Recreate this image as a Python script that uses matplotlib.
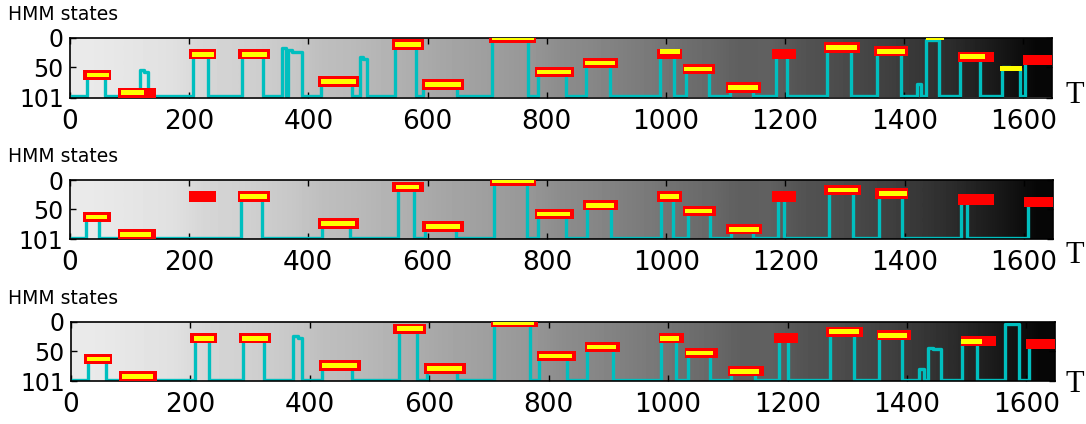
import matplotlib.pyplot as plt
import numpy as np
from matplotlib.patches import Rectangle

# ---------------------------------------------------------------------------
# data
# ---------------------------------------------------------------------------
# ground truth segments (red boxes), shared by all three panels
gt_start = [22, 81, 200, 282, 416, 540, 591, 704, 780, 861, 985, 1028, 1101, 1178, 1265, 1350, 1490, 1600]
gt_end = [69, 144, 245, 335, 485, 594, 661, 782, 845, 919, 1027, 1083, 1160, 1218, 1326, 1406, 1550, 1648]
gt_state = [63, 93, 28, 28, 74, 12, 79, 1, 58, 43, 28, 53, 84, 28, 17, 23, 33, 38]

# detected segments (yellow bars), one set per panel
det1_start = [28, 85, 204, 288, 421, 546, 596, 708, 784, 865, 990, 1031, 1105, 1269, 1354, 1436, 1493, 1560]
det1_end = [65, 124, 241, 330, 480, 589, 656, 778, 840, 914, 1023, 1077, 1155, 1321, 1402, 1466, 1535, 1598]
det1_state = [63, 93, 28, 28, 74, 12, 79, 1, 58, 43, 23, 53, 84, 17, 23, 1, 32, 52]

det2_start = [27, 85, 286, 421, 547, 597, 708, 784, 866, 989, 1032, 1105, 1272, 1356]
det2_end = [63, 137, 330, 478, 586, 655, 778, 839, 913, 1021, 1077, 1155, 1321, 1403]
det2_state = [63, 93, 28, 74, 12, 79, 1, 58, 43, 28, 53, 84, 17, 23]

det3_start = [27, 85, 206, 287, 420, 546, 596, 707, 784, 864, 987, 1030, 1104, 1269, 1352, 1491]
det3_end = [65, 138, 240, 330, 479, 589, 655, 775, 839, 913, 1019, 1076, 1153, 1319, 1400, 1526]
det3_state = [63, 93, 28, 28, 74, 12, 79, 1, 58, 43, 28, 53, 84, 17, 23, 33]

# decoded HMM state path (cyan), step breakpoints per panel
path1_t = [0, 28, 59, 117, 124, 131, 206, 232, 288, 324, 355, 362, 366, 373, 389, 421, 473, 486, 492, 498,
           546, 581, 593, 649, 708, 768, 785, 832, 866, 907, 990, 1013, 1033, 1072, 1107, 1146, 1185, 1203,
           1271, 1311, 1354, 1394, 1422, 1428, 1437, 1458, 1493, 1527, 1564, 1578, 1595, 1602, 1648]
path1_s = [99, 63, 99, 55, 58, 99, 28, 99, 28, 99, 18, 99, 21, 24, 99, 74, 99, 33, 36, 99,
           12, 99, 78, 99, 1, 99, 58, 99, 43, 99, 27, 99, 53, 99, 83, 99, 27, 99,
           17, 99, 22, 99, 79, 99, 4, 99, 33, 99, 49, 52, 99, 38, 38]

path2_t = [0, 28, 49, 288, 323, 423, 470, 550, 578, 596, 648, 711, 767, 785, 832, 868, 907, 991, 1012,
           1036, 1073, 1108, 1146, 1187, 1198, 1273, 1314, 1357, 1395, 1495, 1504, 1606, 1648]
path2_s = [99, 63, 99, 28, 99, 74, 99, 13, 99, 79, 99, 1, 99, 58, 99, 43, 99, 28, 99,
           53, 99, 84, 99, 28, 99, 18, 99, 23, 99, 33, 99, 38, 38]

path3_t = [0, 28, 59, 207, 231, 288, 323, 371, 380, 387, 421, 470, 549, 580, 597, 647, 708, 768, 784, 831,
           864, 907, 988, 1014, 1033, 1071, 1106, 1145, 1185, 1200, 1272, 1312, 1354, 1392, 1421, 1428,
           1436, 1443, 1457, 1493, 1517, 1565, 1587, 1604, 1648]
path3_s = [99, 64, 99, 28, 99, 28, 99, 24, 27, 99, 74, 99, 12, 99, 79, 99, 1, 99, 59, 99,
           43, 99, 28, 99, 54, 99, 84, 99, 28, 99, 18, 99, 23, 99, 80, 99,
           44, 47, 99, 33, 99, 4, 99, 38, 38]

# background image: grey level of each 50-frame column block
bg_gray = [234, 231, 228, 224, 214, 210, 205, 199, 190, 186, 180, 173, 166, 161, 156, 150, 140,
           135, 128, 121, 111, 105, 95, 96, 84, 78, 71, 64, 55, 45, 33, 20, 6]

T_MAX = 1648
panels = [
    (det1_start, det1_end, det1_state, path1_t, path1_s),
    (det2_start, det2_end, det2_state, path2_t, path2_s),
    (det3_start, det3_end, det3_state, path3_t, path3_s),
]
# axes rectangles in figure fraction
axes_pos = [
    [70 / 1086, 1 - 97.5 / 424, 982 / 1086, 60 / 424],
    [69.7 / 1086, 1 - 239.3 / 424, 983 / 1086, 59.3 / 424],
    [71 / 1086, 1 - 381.3 / 424, 984 / 1086, 59.6 / 424],
]
label_top = [5, 146.7, 289]       # "HMM states" top, px
t_base = [103, 263, 392]          # "T" baseline, px

fig = plt.figure(figsize=(10.86, 4.24), dpi=100)

for k, (d_s, d_e, d_st, p_t, p_s) in enumerate(panels):
    ax = fig.add_axes(axes_pos[k])

    bg = np.array(bg_gray, dtype=float)[None, :]
    ax.imshow(bg, cmap='gray', vmin=0, vmax=255, aspect='auto',
              interpolation='bilinear', extent=[0, T_MAX, 101, 0], zorder=0)

    ax.step(p_t, p_s, where='post', color='c', lw=2.4, zorder=2)

    for x0, x1, s in zip(gt_start, gt_end, gt_state):
        ax.add_patch(Rectangle((x0, s - 8.8), x1 - x0, 17.6, facecolor='red',
                               edgecolor='none', zorder=3))
    for x0, x1, s in zip(d_s, d_e, d_st):
        ax.add_patch(Rectangle((x0, s - 4), x1 - x0, 8, facecolor='yellow',
                               edgecolor='none', zorder=4))

    ax.set_xlim(0, T_MAX)
    ax.set_ylim(101, 0)
    ax.set_xticks(range(0, 1601, 200))
    ax.set_yticks([0, 50, 101])
    ax.tick_params(axis='both', direction='in', top=True, right=True, length=4, width=1)
    ax.tick_params(axis='x', labelsize=19, pad=8)
    ax.tick_params(axis='y', labelsize=17, pad=4.5)
    for sp in ax.spines.values():
        sp.set_linewidth(1.2)

    fig.text(8 / 1086, 1 - label_top[k] / 424, 'HMM states', fontsize=13.5,
             ha='left', va='top')
    fig.text(1066 / 1086, 1 - t_base[k] / 424, 'T', fontsize=22,
             family='Liberation Serif', ha='left', va='baseline')

fig.savefig('out.png', dpi=100)
